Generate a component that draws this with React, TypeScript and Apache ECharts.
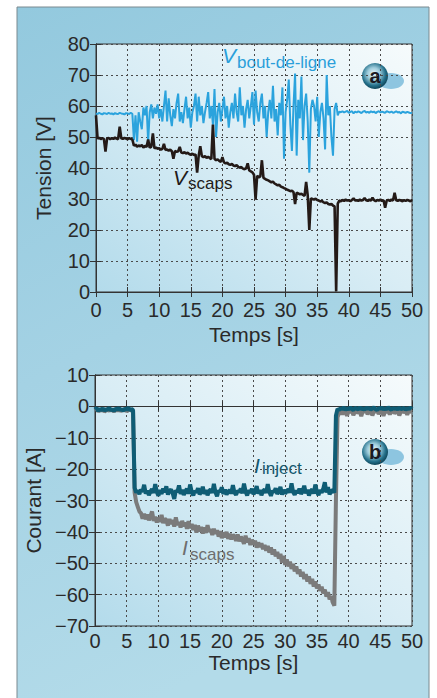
import React, { useEffect, useRef } from "react";
import * as echarts from "echarts";

// ---------- data (time in s) ----------
const X_MIN = 0;
const X_MAX = 50;
const X_STEP = 5;

// V_bout-de-ligne (V)
const vBoutPre = [57.6, 57.4, 57.8, 57.5, 57.3, 57.7, 57.6, 57.4, 57.8, 57.5, 57.6, 57.3, 57.7, 57.5, 57.4, 57.8, 57.6, 57.5, 57.3, 57.7, 57.6, 57.4, 57.8, 57.5];
const vBoutNoisy = [49, 57, 48.5, 58, 55, 52.5, 59.5, 57, 60, 48.5, 58, 60.5, 56, 59.5, 57.5, 60.5, 56, 59, 55, 60, 65, 55, 62.5, 57, 53.5, 59, 56, 61, 64, 55, 58, 54.5, 59, 63, 56, 59.5, 53, 58, 60, 64, 55, 63, 57, 60, 54.5, 58, 61, 64.5, 56, 60, 54, 65.5, 50, 58, 61, 55, 59, 63, 56, 60, 53, 58, 61, 56, 64, 58, 55, 66, 57, 60, 53, 59, 62, 56, 60, 64.5, 54, 65, 58, 55, 61, 64, 56, 60, 50, 58, 62, 56, 66.5, 55, 59, 50.5, 61, 57, 66, 43, 58, 62, 68.5, 54, 45.5, 60, 70.5, 44, 62, 56, 69.5, 49, 60, 64, 55, 38.5, 59, 62, 60, 55, 63, 50, 58, 61, 56, 46, 70, 57, 60, 50, 44, 59, 61, 57, 58.2];
const vBoutPost = [58.0, 58.3, 57.9, 58.2, 58.4, 57.8, 58.1, 58.3, 57.6, 58.2, 57.9, 58.3, 58.0, 57.7, 58.2, 58.4, 57.9, 58.1, 57.8, 58.3, 58.0, 58.2, 57.7, 58.1, 58.3, 57.9, 58.2, 58.0, 57.8, 58.3, 58.1, 57.9, 58.2, 57.8, 58.0, 58.3, 57.9, 58.1, 57.6, 58.2, 58.0, 57.8, 58.1, 57.9, 57.7, 57.8];

// V_scaps (V), 0 -> 50 s
const vScaps = [57, 49.5, 49.8, 49.3, 49.6, 49.4, 45.3, 49.5, 49.7, 49.3, 49.6, 49.4, 49.8, 49.5, 49.3, 53.3, 49.6, 49.4, 49.7, 49.5, 49.3, 49.6, 49.4, 49.2,
  47.2, 47.6, 46.8, 47.3, 47.0, 47.4, 46.6, 47.1, 46.8, 49.2, 46.5, 46.9, 51.2, 46.3, 46.6, 46.2, 46.4, 45.9, 46.2, 47.8, 45.8, 46.0, 45.6, 45.9, 45.4, 43.0,
  45.5, 45.2, 45.4, 46.8, 45.0, 44.8, 45.1, 44.7, 44.9, 44.5, 44.3, 44.6, 44.2, 44.4, 38.5, 44.0, 47.0, 43.8, 43.5, 43.8, 43.3, 43.6, 43.2, 42.9, 54.0, 43.0,
  42.5, 42.8, 42.3, 42.0, 43.5, 41.8, 41.5, 41.7, 41.2, 41.0, 41.3, 40.8, 40.6, 40.9, 40.4, 40.1, 40.3, 39.8, 39.6, 39.9, 41.5, 39.2, 38.9, 38.6, 37.8, 29.8,
  37.5, 37.0, 37.3, 42.5, 36.8, 36.5, 36.2, 36.0, 35.7, 35.4, 35.6, 35.0, 34.7, 34.4, 34.6, 34.0, 33.8, 33.5, 33.3, 33.0, 32.8, 32.5, 32.7, 32.2, 28.4, 32.0,
  31.8, 31.5, 31.7, 31.3, 31.0, 35.5, 31.2, 20.0, 30.2, 30.0, 29.8, 30.1, 29.7, 29.5, 29.2, 29.4, 28.9, 28.7, 28.9, 28.4, 28.2, 28.4, 27.9, 27.6, 0.2, 28.5,
  29.5, 29.3, 29.7, 29.4, 29.8, 29.5, 29.6, 29.3, 29.7, 30.2, 29.5, 29.6, 29.4, 29.8, 29.5, 29.7, 30.3, 29.6, 29.4, 29.8, 29.5, 30.4, 29.6, 29.3, 29.7, 29.5,
  29.8, 29.4, 29.6, 27.2, 29.5, 29.7, 29.4, 29.8, 29.5, 32.0, 29.6, 29.4, 29.7, 29.5, 29.3, 29.6, 29.4, 29.7, 29.5, 29.3, 29.6];

// I_inject (A)
const iInjectPre = [-1.0, -0.5, -1.5, -0.8, -1.2, -0.6, -1.4, -0.9, -1.1, -0.4, -1.3, -0.8, -1.5, -0.7, -1.0, -0.5, -1.2, -0.9, -1.4, -0.6, -1.1, -0.3, -1.3, -0.8, -1.2];
const iInjectOn = [-26, -27.5, -26.8, -28, -26.5, -27.2, -25, -27.8, -26.9, -28.3, -27.1, -26.4, -27.6, -24.8, -27.3, -28.5, -26.7, -27.9, -26.2, -27.4, -25.5, -28.1, -27.0, -26.5, -27.7, -29.5, -26.8, -27.3, -25.2, -27.9, -26.6, -28.2, -27.1, -26.3, -27.8, -24.9, -27.2, -28.4, -26.9, -27.5, -26.1, -28.0, -27.3, -25.6, -27.9, -26.7, -28.3, -27.0, -26.4, -27.6, -24.7, -27.4, -28.6, -26.8, -27.2, -25.8, -27.9, -26.5, -28.1, -27.3, -26.6, -27.8, -25.1, -27.5, -28.2, -26.9, -27.4, -26.2, -27.7, -24.6, -27.1, -28.4, -26.8, -27.5, -26.3, -28.0, -27.2, -25.4, -27.8, -26.7, -28.3, -27.0, -26.5, -27.6, -24.8, -27.3, -28.5, -26.9, -27.4, -26.1, -27.9, -27.2, -25.7, -28.1, -26.6, -27.8, -27.0, -26.4, -27.5, -24.5, -27.3, -28.2, -26.8, -27.6, -26.2, -27.9, -27.1, -25.3, -27.7, -26.6, -28.4, -27.0, -26.5, -27.8, -24.9, -27.2, -28.3, -26.7, -27.5, -26.3, -24.2, -27.4, -25.8, -28.0, -27.1, -26.6, -27.5];
const iInjectPost = [-3, -0.8, -1.2, -0.5, -0.9, -0.3, -1.1, -0.6, -1.0, -0.4, -0.8, -1.2, -0.5, -0.7, -1.0, -0.3, -0.9, -0.6, -1.1, -0.4, -0.8, -0.5, -1.0, -0.7, -0.3, -0.9, -1.2, -0.5, -0.8, -0.4, -1.0, -0.6, -0.9, -0.3, -0.7, -1.1, -0.5, -0.8, -0.6, -1.0, -0.4, -0.9, -0.7, -0.5, -1.1, -0.6, -0.8, -0.4, -0.9];

// I_scaps (A)
const iScapsPre = [-1.3, -0.9, -1.6, -1.1, -1.4, -0.8, -1.7, -1.2, -1.0, -1.5, -0.9, -1.3, -1.6, -1.0, -1.4, -0.8, -1.5, -1.1, -1.3, -0.9, -1.6, -1.2, -1.0, -1.4, -1.3];
const iScapsOn = [-27.5, -30.5, -32.0, -33.5, -34.0, -35.8, -34.2, -36.0, -34.5, -36.3, -35.0, -33.5, -36.5, -35.2, -37.0, -35.5, -36.8, -34.6, -37.2, -35.8,
  -36.3, -38.0, -35.9, -37.5, -36.2, -38.3, -35.4, -37.8, -36.9, -38.6, -36.5, -38.2, -37.0, -39.0, -36.6, -38.8, -37.5, -39.4, -37.8, -40.2,
  -38.0, -39.8, -38.4, -40.5, -38.6, -40.3, -37.9, -40.0, -39.2, -41.0, -39.0, -40.6, -39.5, -41.5, -39.8, -42.0, -40.2, -41.8, -40.0, -42.2,
  -40.6, -42.4, -40.9, -41.5, -42.8, -40.8, -43.0, -41.5, -42.5, -43.8, -41.2, -43.3, -42.0, -44.2, -42.5, -44.0, -42.8, -45.0, -43.4, -44.8,
  -43.6, -45.5, -44.2, -46.0, -44.5, -46.6, -45.0, -47.2, -45.6, -47.8, -46.4, -48.5, -47.0, -49.8, -47.6, -50.5, -48.8, -51.0, -49.5, -51.8,
  -50.2, -52.6, -51.0, -53.4, -52.0, -54.2, -52.8, -55.0, -53.5, -55.8, -54.2, -56.6, -55.0, -57.4, -55.8, -58.0, -56.8, -58.8, -57.5, -59.6,
  -58.4, -60.6, -59.2, -61.5, -60.5, -62.5, -63.5];
const iScapsPost = [-30, -3.5, -2.0, -1.5, -2.6, -1.2, -1.8, -3.0, -1.4, -1.9, -1.1, -2.8, -1.6, -1.3, -2.2, -1.5, -3.1, -1.4, -1.8, -1.2, -2.5, -1.6, -1.3, -2.9, -1.5, -1.7, -1.2, -2.4, -1.6, -1.4, -3.0, -1.5, -1.8, -1.3, -2.6, -1.5, -1.2, -2.2, -1.7, -1.4, -2.9, -1.6, -1.3, -2.0, -1.5, -2.7, -1.4, -1.6, -1.8];

// ---------- helpers ----------
// place a run of samples evenly between its first and last time stamp
const seg = (t0: number, t1: number, vals: number[]) =>
  vals.map((v, i) => [t0 + ((t1 - t0) * i) / (vals.length - 1), v]);

const FONT = "'Liberation Sans', Arial, Helvetica, sans-serif";
const minus = (v: number) => String(v).replace("-", "\u2212");

const gridLine = { show: true, lineStyle: { color: "#4a4a4a", width: 1, type: [2, 3] as any } };
const frameLine = { show: true, lineStyle: { color: "#333", width: 1 } };

function xAxes(gridIndex: number, labelMargin: number, nameGap: number) {
  return [
    {
      type: "value", gridIndex, min: X_MIN, max: X_MAX, interval: X_STEP,
      name: "Temps [s]", nameLocation: "middle", nameGap,
      nameTextStyle: { fontSize: 21, color: "#2a2a2a", fontFamily: FONT },
      axisLine: frameLine,
      axisTick: { show: true, inside: true, length: 5, lineStyle: { color: "#333" } },
      axisLabel: { fontSize: 20, color: "#2a2a2a", fontFamily: FONT, margin: labelMargin },
      splitLine: gridLine,
    },
    {
      type: "value", gridIndex, position: "top", min: X_MIN, max: X_MAX, interval: X_STEP,
      axisLine: frameLine,
      axisTick: { show: true, inside: true, length: 5, lineStyle: { color: "#333" } },
      axisLabel: { show: false }, splitLine: { show: false },
    },
  ];
}

function yAxes(gridIndex: number, min: number, max: number, name: string, nameGap: number) {
  return [
    {
      type: "value", gridIndex, min, max, interval: 10,
      name, nameLocation: "middle", nameGap, nameRotate: 90,
      nameTextStyle: { fontSize: 21, color: "#2a2a2a", fontFamily: FONT },
      axisLine: frameLine,
      axisTick: { show: true, inside: true, length: 5, lineStyle: { color: "#333" } },
      axisLabel: { fontSize: 20, color: "#2a2a2a", fontFamily: FONT, margin: 6, formatter: minus },
      splitLine: gridLine,
    },
    {
      type: "value", gridIndex, position: "right", min, max, interval: 10,
      axisLine: frameLine,
      axisTick: { show: true, inside: true, length: 6, lineStyle: { color: "#333" } },
      axisLabel: { show: false }, splitLine: { show: false },
    },
  ];
}

const plotBg = {
  type: "linear", x: 0, y: 1, x2: 1, y2: 0,
  colorStops: [
    { offset: 0, color: "#b3dbeb" },
    { offset: 0.5, color: "#d9edf5" },
    { offset: 1, color: "#f6fbfc" },
  ],
};

function badge(cx: number, cy: number, letter: string) {
  return {
    type: "group", z: 100,
    children: [
      { type: "ellipse", shape: { cx: cx + 16, cy: cy + 5, rx: 13, ry: 8 }, style: { fill: "rgba(110,180,215,0.75)" } },
      {
        type: "circle", shape: { cx, cy, r: 13 },
        style: {
          fill: {
            type: "radial", x: 0.45, y: 0.42, r: 0.6,
            colorStops: [
              { offset: 0, color: "#eef9fc" },
              { offset: 0.4, color: "#9ccbdb" },
              { offset: 0.75, color: "#24708a" },
              { offset: 1, color: "#0b3f52" },
            ],
          },
        },
      },
      {
        type: "text", x: cx, y: cy,
        style: { text: letter, fill: "#1b1a22", font: `bold 20px ${FONT}`, textAlign: "center", textVerticalAlign: "middle" },
      },
    ],
  };
}

function label(x: number, y: number, main: string, sub: string, color: string, subDx: number, subDy: number) {
  return {
    type: "group", z: 100,
    children: [
      { type: "text", x, y, style: { text: main, fill: color, font: `italic 21px ${FONT}`, textVerticalAlign: "middle" } },
      { type: "text", x: x + subDx, y: y + subDy, style: { text: sub, fill: color, font: `17px ${FONT}`, textVerticalAlign: "middle" } },
    ],
  };
}

export default function App() {
  const ref = useRef<HTMLDivElement>(null);

  useEffect(() => {
    if (!ref.current) return;
    const chart = echarts.init(ref.current, undefined, { renderer: "svg" });

    const option: any = {
      animation: false,
      backgroundColor: "#ffffff",
      grid: [
        { left: 96, top: 44, width: 316, height: 248, show: true, backgroundColor: plotBg, borderColor: "#333", borderWidth: 1 },
        { left: 95, top: 375, width: 317, height: 251, show: true, backgroundColor: plotBg, borderColor: "#333", borderWidth: 1 },
      ],
      xAxis: [...xAxes(0, 8, 32), ...xAxes(1, 5, 25)],
      yAxis: [...yAxes(0, 0, 80, "Tension [V]", 42), ...yAxes(1, -70, 10, "Courant [A]", 45)],
      graphic: [
        {
          type: "rect", z: -10, silent: true,
          shape: { x: 17, y: 7, width: 412, height: 700 },
          style: {
            fill: {
              type: "linear", x: 0, y: 0, x2: 0.3, y2: 1,
              colorStops: [
                { offset: 0, color: "#93c9de" },
                { offset: 0.5, color: "#a4d2e4" },
                { offset: 1, color: "#b3dbe9" },
              ],
            },
            stroke: "#7a8a90", lineWidth: 1,
          },
        },
        label(222, 55, "V", "bout-de-ligne", "#2a9fda", 15, 7),
        label(173, 177, "V", "scaps", "#221a18", 15, 6),
        label(254, 465, "I", "inject", "#12586f", 8, 3),
        label(182, 547, "I", "scaps", "#6e6e6e", 8, 7),
        badge(375, 76, "a"),
        badge(375, 452, "b"),
      ],
      series: [
        {
          type: "line", name: "V bout-de-ligne", xAxisIndex: 0, yAxisIndex: 0, showSymbol: false, symbol: "none",
          lineStyle: { color: "#2ba3dd", width: 2 },
          data: [...seg(0, 5.75, vBoutPre), ...seg(6.0, 38.5, vBoutNoisy), ...seg(38.75, 50, vBoutPost)],
        },
        {
          type: "line", name: "V scaps", xAxisIndex: 0, yAxisIndex: 0, showSymbol: false, symbol: "none",
          lineStyle: { color: "#241a17", width: 2.6 },
          data: seg(0, 50, vScaps),
        },
        {
          type: "line", name: "I scaps", xAxisIndex: 2, yAxisIndex: 2, showSymbol: false, symbol: "none",
          lineStyle: { color: "#7b7b7b", width: 4 },
          data: [...seg(0, 6.0, iScapsPre), ...seg(6.25, 37.75, iScapsOn), ...seg(38.0, 50, iScapsPost)],
        },
        {
          type: "line", name: "I inject", xAxisIndex: 2, yAxisIndex: 2, showSymbol: false, symbol: "none",
          lineStyle: { color: "#0f5d75", width: 4 },
          data: [...seg(0, 6.0, iInjectPre), ...seg(6.25, 37.75, iInjectOn), ...seg(38.0, 50, iInjectPost)],
        },
      ],
    };

    chart.setOption(option);
    return () => chart.dispose();
  }, []);

  return <div ref={ref} style={{ position: "absolute", left: 0, top: 0, width: 437, height: 698 }} />;
}
